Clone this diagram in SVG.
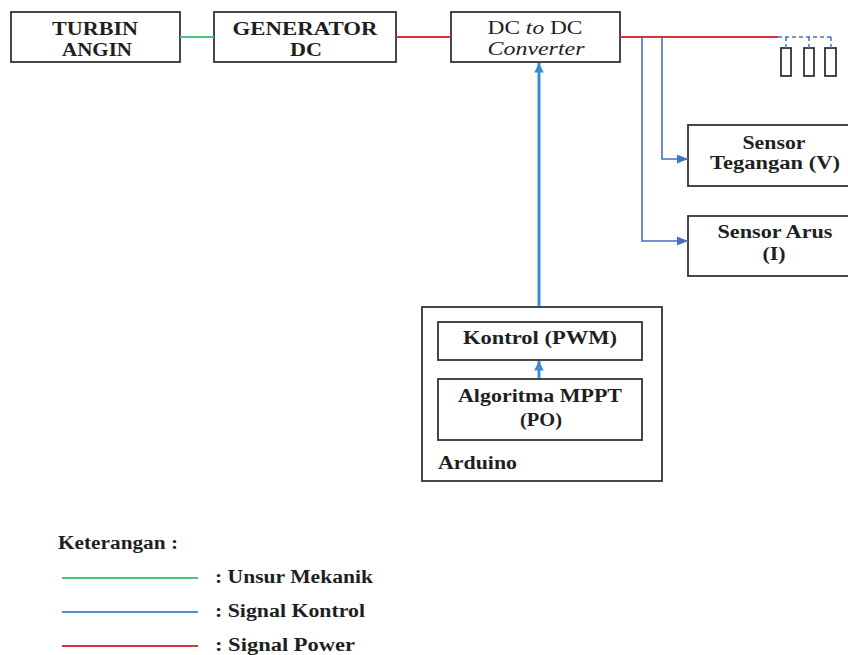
<svg xmlns="http://www.w3.org/2000/svg" width="848" height="655" viewBox="0 0 848 655">
<style>
.box{fill:#fff;stroke:#333;stroke-width:1.8}
.t{font-family:'Liberation Serif','Times New Roman',serif;font-size:18px;font-weight:bold;fill:#1f1f1f;text-anchor:middle}
.tl{font-family:'Liberation Serif','Times New Roman',serif;font-size:18px;font-weight:bold;fill:#1f1f1f}
.n{font-weight:normal}
.green{stroke:#4cc27a;stroke-width:2;fill:none}
.red{stroke:#d6363a;stroke-width:2;fill:none}
.ctl{stroke:#3b8ed4;stroke-width:3;fill:none}
.sen{stroke:#4472c4;stroke-width:1.6;fill:none}
.dash{stroke:#4472c4;stroke-width:1.5;fill:none;stroke-dasharray:4 3}
</style>
<defs>
<marker id="ac" viewBox="0 0 10 10" refX="10" refY="5" markerWidth="3.2" markerHeight="3.2" orient="auto"><path d="M0,0 L10,5 L0,10 Z" fill="#3b8ed4"/></marker>
<marker id="as" viewBox="0 0 10 10" refX="10" refY="5" markerWidth="7" markerHeight="7" orient="auto"><path d="M0,1 L10,5 L0,9 Z" fill="#4472c4"/></marker>
</defs>
<rect width="848" height="655" fill="#fff"/>
<g id="turbin">
<rect class="box" x="11" y="12" width="169" height="50"/>
<text class="t" x="95" y="35" textLength="86" lengthAdjust="spacingAndGlyphs">TURBIN</text>
<text class="t" x="97" y="56" textLength="70" lengthAdjust="spacingAndGlyphs">ANGIN</text>
</g>
<g id="generator">
<rect class="box" x="214" y="12" width="182" height="50"/>
<text class="t" x="305" y="35" textLength="145" lengthAdjust="spacingAndGlyphs">GENERATOR</text>
<text class="t" x="306" y="56" textLength="32" lengthAdjust="spacingAndGlyphs">DC</text>
</g>
<g id="converter">
<rect class="box" x="451" y="12" width="169" height="50"/>
<text class="t n" x="535" y="34" textLength="95" lengthAdjust="spacingAndGlyphs">DC <tspan font-style="italic">to</tspan> DC</text>
<text class="t n" x="536" y="55" font-style="italic" textLength="97" lengthAdjust="spacingAndGlyphs">Converter</text>
</g>
<g id="load">
<rect class="box" x="781" y="48" width="10" height="28" stroke-width="2"/>
<rect class="box" x="804" y="48" width="10" height="28" stroke-width="2"/>
<rect class="box" x="825" y="48" width="11" height="28" stroke-width="2"/>
</g>
<g id="sensor-tegangan">
<rect class="box" x="688" y="125" width="175" height="61"/>
<text class="t" x="774" y="149" textLength="63" lengthAdjust="spacingAndGlyphs">Sensor</text>
<text class="t" x="775" y="169" textLength="130" lengthAdjust="spacingAndGlyphs">Tegangan (V)</text>
</g>
<g id="sensor-arus">
<rect class="box" x="688" y="216" width="175" height="60"/>
<text class="t" x="775" y="238" textLength="115" lengthAdjust="spacingAndGlyphs">Sensor Arus</text>
<text class="t" x="774" y="260" textLength="23" lengthAdjust="spacingAndGlyphs">(I)</text>
</g>
<g id="arduino">
<rect class="box" x="422" y="307" width="240" height="174"/>
<text class="tl" x="438" y="469" textLength="79" lengthAdjust="spacingAndGlyphs">Arduino</text>
</g>
<g id="kontrol">
<rect class="box" x="438" y="322" width="204" height="38"/>
<text class="t" x="540" y="344" textLength="154" lengthAdjust="spacingAndGlyphs">Kontrol (PWM)</text>
</g>
<g id="algoritma">
<rect class="box" x="438" y="379" width="204" height="61"/>
<text class="t" x="540" y="402" textLength="164" lengthAdjust="spacingAndGlyphs">Algoritma MPPT</text>
<text class="t" x="541" y="426" textLength="42" lengthAdjust="spacingAndGlyphs">(PO)</text>
</g>
<g id="connectors">
<line class="green" x1="180" y1="37" x2="214" y2="37"/>
<line class="red" x1="396" y1="37" x2="451" y2="37"/>
<line class="red" x1="620" y1="37" x2="778" y2="37"/>
<path class="dash" d="M778,37 H832 M786,37 V48 M809,37 V48 M831,37 V48"/>
<path class="sen" d="M662,38 V159 H688" marker-end="url(#as)"/>
<path class="sen" d="M642,38 V241 H688" marker-end="url(#as)"/>
<line class="ctl" x1="539" y1="306" x2="539" y2="63" marker-end="url(#ac)"/>
<line class="ctl" x1="539" y1="378" x2="539" y2="361" marker-end="url(#ac)"/>
</g>
<g id="legend">
<text class="tl" x="58" y="549" textLength="120" lengthAdjust="spacingAndGlyphs">Keterangan :</text>
<line class="green" x1="62" y1="578" x2="198" y2="578"/>
<line x1="62" y1="612" x2="198" y2="612" stroke="#4a90d0" stroke-width="2"/>
<line class="red" x1="62" y1="646" x2="198" y2="646"/>
<text class="tl" x="215" y="583" textLength="158" lengthAdjust="spacingAndGlyphs">: Unsur Mekanik</text>
<text class="tl" x="215" y="617" textLength="150" lengthAdjust="spacingAndGlyphs">: Signal Kontrol</text>
<text class="tl" x="215" y="651" textLength="140" lengthAdjust="spacingAndGlyphs">: Signal Power</text>
</g>
</svg>
